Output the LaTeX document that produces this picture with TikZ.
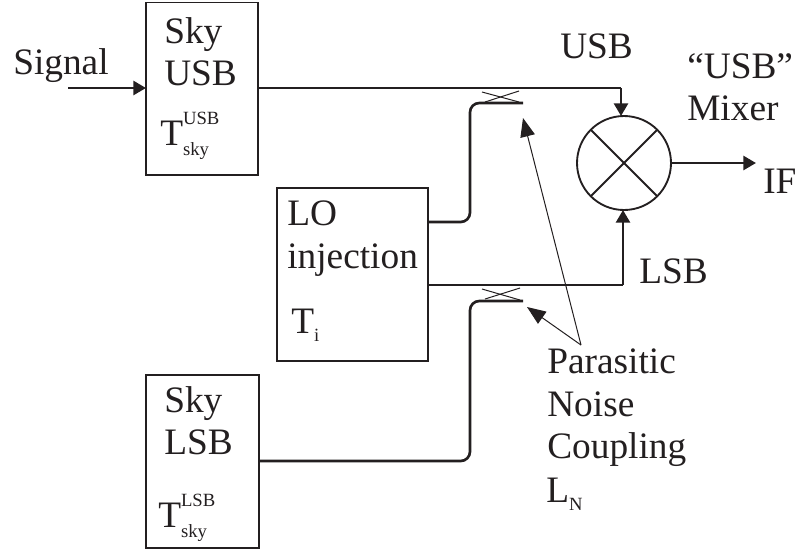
\documentclass[tikz,border=0pt]{standalone}
\usepackage{fontspec}
\setmainfont{Liberation Serif}
\usetikzlibrary{arrows.meta}
\definecolor{inkdark}{RGB}{35,31,32}
\newcommand{\tsup}[2]{T\rlap{\raisebox{15.5pt}{\fontsize{14}{14}\selectfont #1}}\raisebox{-7.5pt}{\fontsize{14}{14}\selectfont #2}}
\newcommand{\tlow}[2]{#1\raisebox{-6.5pt}{\fontsize{14}{14}\selectfont #2}}

\begin{document}
\begin{tikzpicture}[
    x = 0.75pt,
    y = -0.75pt,
    every node/.style = {text = inkdark, font = \fontsize{28}{33}\selectfont},
    label/.style = {inner sep = 0pt, anchor = base west, align = left},
    block/.style = {draw = inkdark, line width = 1.4pt, fill = white, inner sep = 0pt, outer sep = 0pt, anchor = north west},
    wire/.style = {draw = inkdark, line width = 2pt},
    feed/.style = {wire, -{Triangle[length = 9.5pt, width = 10.5pt]}},
    thin line/.style = {draw = inkdark, line width = 0.75pt},
    pointer/.style = {thin line, -{Triangle[length = 14pt, width = 11pt]}},
    stub/.style = {wire, rounded corners = 7pt}
]
\useasboundingbox (0,0) rectangle (799,551);

% blocks
\node [block, minimum width = 84pt, minimum height = 129.5pt] (skyusb) at (146,2.5) {};
\node [block, minimum width = 113.25pt, minimum height = 129.75pt] (lo) at (277,188) {};
\node [block, minimum width = 84.75pt, minimum height = 129.75pt] (skylsb) at (146,375) {};
\node [draw = inkdark, line width = 1.4pt, circle, minimum size = 70.5pt, inner sep = 0pt, outer sep = 0pt] (mixer) at (624,163) {};
\draw [wire, line width = 1.5pt] (mixer.45) -- (mixer.225);
\draw [wire, line width = 1.5pt] (mixer.135) -- (mixer.315);

% free ends
\coordinate (sigin) at (68,88);
\coordinate (ifout) at (756,163);
\coordinate (usbcorner) at (621,88);
\coordinate (lsbcorner) at (623,285);
\coordinate (usbstub) at (523,103);
\coordinate (lsbstub) at (523,301);
\coordinate (usbhit) at (523,118);
\coordinate (lsbhit) at (527,307);
\coordinate (pointfrom) at (581,345);

% main lines
\draw [feed] (sigin) -- (sigin -| skyusb.west);
\draw [wire] (usbcorner -| skyusb.east) -- (usbcorner);
\draw [feed] (usbcorner) -- (usbcorner |- mixer.north);
\draw [wire] (lsbcorner -| lo.east) -- (lsbcorner);
\draw [feed] (lsbcorner) -- (lsbcorner |- mixer.south);
\draw [feed] (mixer.east) -- (ifout);

% couplers
\draw [stub] (lo.east |- 0,222) -- (470,222) -- (470,103) -- (usbstub);
\draw [stub] (skylsb.east |- 0,461) -- (470,461) -- (470,301) -- (lsbstub);
\draw [thin line] (482,92) -- (519,102);
\draw [thin line] (519,91) -- (485,102);
\draw [thin line] (482,289) -- (520,300);
\draw [thin line] (520,288) -- (485,299);
\draw [pointer] (pointfrom) -- (usbhit);
\draw [pointer] (pointfrom) -- (lsbhit);

% texts
\node [label] (signal) at (13,74) {Signal};
\node [label] (skyname) at (164,43) {Sky};
\node [label] (usbname) at (164,85) {USB};
\node [label] (tusb) at (160,145) {\tsup{USB}{sky}};
\node [label] (uppername) at (560,58) {USB};
\node [label] (mixname) at (687,78) {``USB''};
\node [label] (mixword) at (687,120) {Mixer};
\node [label] (ifname) at (763,193) {IF};
\node [label] (loname) at (287,225) {LO};
\node [label] (injname) at (287,268) {injection};
\node [label] (tiname) at (291,333) {\tlow{T}{i}};
\node [label] (lowername) at (639,283) {LSB};
\node [label] (parname) at (547,373) {Parasitic};
\node [label] (noisename) at (547,416) {Noise};
\node [label] (coupname) at (547,458) {Coupling};
\node [label] (lnname) at (546,502) {\tlow{L}{N}};
\node [label] (skyname2) at (164,412) {Sky};
\node [label] (lsbname) at (164,454) {LSB};
\node [label] (tlsb) at (158,527) {\tsup{LSB}{sky}};
\end{tikzpicture}
\end{document}
